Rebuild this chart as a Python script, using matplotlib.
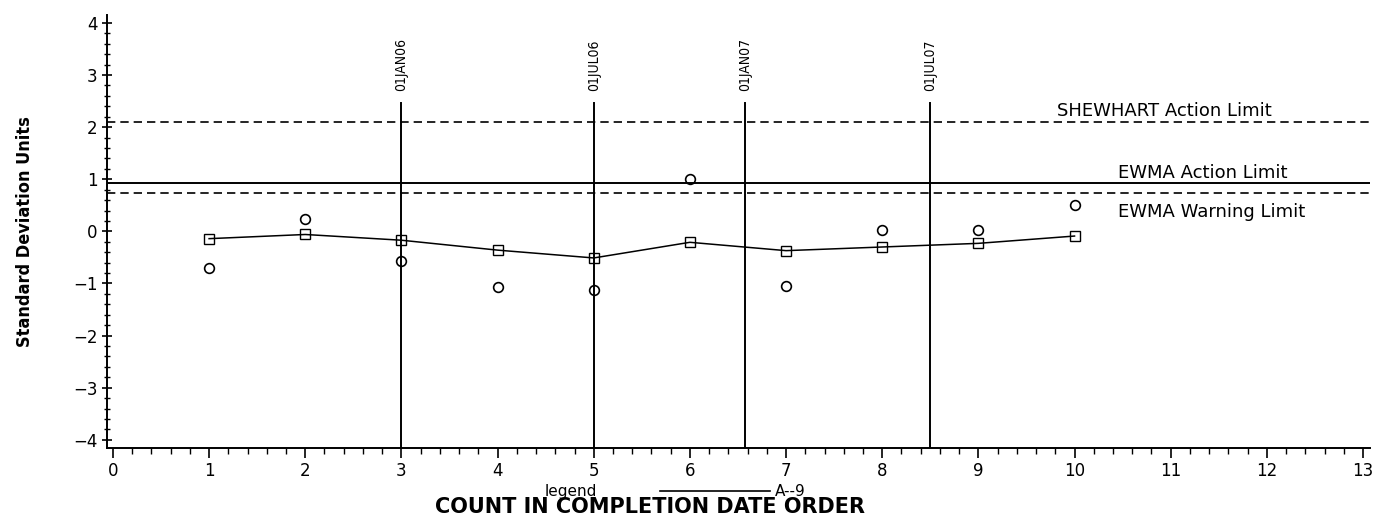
import matplotlib.pyplot as plt
from matplotlib.ticker import MultipleLocator

# data
count = [1, 2, 3, 4, 5, 6, 7, 8, 9, 10]
ewma = [-0.14, -0.06, -0.17, -0.36, -0.51, -0.21, -0.37, -0.30, -0.23, -0.09]
obs = [-0.71, 0.24, -0.57, -1.07, -1.12, 1.01, -1.05, 0.02, 0.02, 0.50]

shewhart_limit = 2.09
ewma_action = 0.92
ewma_warning = 0.73

date_pos = [3.0, 5.0, 6.57, 8.5]
date_labels = ['01JAN06', '01JUL06', '01JAN07', '01JUL07']

fig = plt.figure(figsize=(13.92, 5.17), dpi=100)
ax = fig.add_axes([0.077, 0.134, 0.907, 0.837])

ax.axhline(shewhart_limit, color='black', ls=(0, (5, 3)), lw=1.2)
ax.axhline(ewma_action, color='black', ls='-', lw=1.4)
ax.axhline(ewma_warning, color='black', ls=(0, (5, 3)), lw=1.2)

for xp, lab in zip(date_pos, date_labels):
    ax.plot([xp, xp], [-4.15, 2.46], color='black', lw=1.4)
    ax.text(xp, 2.70, lab, rotation=90, ha='center', va='bottom',
            fontsize=10, fontstretch='condensed', family='DejaVu Sans')

ax.plot(count, ewma, color='black', lw=1.1, marker='s', ms=7,
        mfc='none', mec='black', mew=1.0)
ax.plot(count, obs, ls='none', marker='o', ms=7,
        mfc='none', mec='black', mew=1.2)

ax.text(9.82, 2.30, 'SHEWHART Action Limit', ha='left', va='center', fontsize=13)
ax.text(10.45, 1.12, 'EWMA Action Limit', ha='left', va='center', fontsize=13)
ax.text(10.45, 0.38, 'EWMA Warning Limit', ha='left', va='center', fontsize=13)

ax.set_xlim(-0.06, 13.07)
ax.set_ylim(-4.15, 4.15)
ax.xaxis.set_major_locator(MultipleLocator(1))
ax.xaxis.set_minor_locator(MultipleLocator(0.2))
ax.yaxis.set_major_locator(MultipleLocator(1))
ax.yaxis.set_minor_locator(MultipleLocator(0.2))
ax.tick_params(which='major', length=7, width=1.2, labelsize=12, direction='inout')
ax.tick_params(which='minor', length=4, width=1.0, direction='inout')
ax.tick_params(axis='x', which='both', direction='out', pad=3)

ax.spines['top'].set_visible(False)
ax.spines['right'].set_visible(False)
ax.spines['left'].set_linewidth(1.4)
ax.spines['bottom'].set_linewidth(1.4)

ax.set_ylabel('Standard Deviation Units', fontsize=13, fontweight='bold',
              fontstretch='condensed', labelpad=28)

fig.text(0.410, 0.049, 'legend', ha='center', va='center', fontsize=11)
fig.add_artist(plt.Line2D([0.474, 0.553], [0.050, 0.050], color='black', lw=1.2))
fig.text(0.557, 0.049, 'A--9', ha='left', va='center', fontsize=11)
fig.text(0.467, 0.020, 'COUNT IN COMPLETION DATE ORDER', ha='center', va='center',
         fontsize=15, fontweight='heavy')

fig.savefig('out.png', dpi=100)
